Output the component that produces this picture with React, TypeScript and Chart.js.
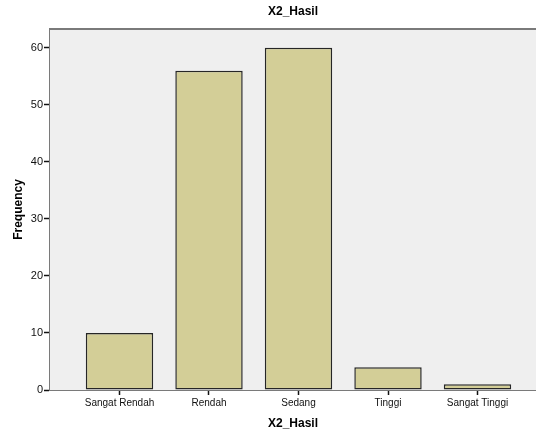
import React, { useEffect, useRef } from "react";
import { Chart, registerables } from "chart.js";

Chart.register(...registerables);

const chartTitle = "X2_Hasil";
const xAxisTitle = "X2_Hasil";
const yAxisTitle = "Frequency";
const categories = ["Sangat Rendah", "Rendah", "Sedang", "Tinggi", "Sangat Tinggi"];
const frequencies = [10, 56, 60, 4, 1];

const FONT = "'Liberation Sans', Arial, sans-serif";

const plotDecor = {
  id: "plotDecor",
  beforeDatasetsDraw(chart: any) {
    const { ctx, chartArea } = chart;
    ctx.save();
    ctx.fillStyle = "#efefef";
    ctx.fillRect(chartArea.left, chartArea.top, chartArea.right - chartArea.left, chartArea.bottom - chartArea.top);
    ctx.restore();
  },
  afterDraw(chart: any) {
    const { ctx, chartArea } = chart;
    ctx.save();
    ctx.strokeStyle = "#7a7a7a";
    ctx.lineWidth = 2;
    ctx.beginPath();
    ctx.moveTo(chartArea.left, chartArea.top);
    ctx.lineTo(chartArea.right, chartArea.top);
    ctx.stroke();
    ctx.fillStyle = "#000";
    ctx.font = `bold 12px ${FONT}`;
    ctx.textAlign = "center";
    ctx.textBaseline = "middle";
    ctx.fillText(chartTitle, (chartArea.left + chartArea.right) / 2, 12);
    ctx.restore();
  },
};

export default function App() {
  const ref = useRef<HTMLCanvasElement>(null);
  useEffect(() => {
    document.body.style.margin = "0";
    const chart = new Chart(ref.current!, {
      type: "bar",
      data: {
        datasets: [
          {
            data: frequencies.map((v, i) => ({ x: i, y: v })),
            backgroundColor: "#d3ce97",
            borderColor: "#262626",
            borderWidth: 1.5,
            borderSkipped: false,
            barPercentage: 0.753,
            categoryPercentage: 1,
          },
        ],
      },
      options: {
        animation: false,
        responsive: false,
        devicePixelRatio: 1,
        layout: { padding: { top: 29, left: 0, right: 0, bottom: 0 } },
        plugins: { legend: { display: false }, tooltip: { enabled: false }, title: { display: false } },
        scales: {
          x: {
            type: "linear",
            min: -0.7765,
            max: 4.6536,
            offset: false,
            afterBuildTicks: (axis: any) => {
              axis.ticks = categories.map((_, i) => ({ value: i }));
            },
            afterFit: (scale: any) => {
              scale.height = 45;
            },
            grid: { display: true, drawOnChartArea: false, tickLength: 5, tickColor: "#111", tickWidth: 1.5, offset: false },
            border: { display: true, color: "#7a7a7a", width: 2 },
            ticks: {
              autoSkip: false,
              maxRotation: 0,
              padding: 2,
              color: "#111",
              font: { family: FONT, size: 10 },
              callback: (value: any) => categories[value as number] ?? "",
            },
            title: {
              display: true,
              text: xAxisTitle,
              color: "#000",
              font: { family: FONT, size: 12, weight: "bold" },
              padding: { top: 4, bottom: 4 },
            },
          },
          y: {
            min: 0,
            max: 63.3,
            afterFit: (scale: any) => {
              scale.width = 50;
            },
            grid: { display: true, drawOnChartArea: false, tickLength: 6, tickColor: "#111", tickWidth: 1.5 },
            border: { display: true, color: "#7a7a7a", width: 2 },
            ticks: {
              stepSize: 10,
              includeBounds: false,
              padding: 1,
              color: "#111",
              font: { family: FONT, size: 11 },
            },
            title: {
              display: true,
              text: yAxisTitle,
              color: "#000",
              font: { family: FONT, size: 12, weight: "bold" },
              padding: { top: 11, bottom: 4 },
            },
          },
        },
      },
      plugins: [plotDecor],
    } as any);
    return () => chart.destroy();
  }, []);
  return (
    <div style={{ position: "absolute", left: 0, top: 0, width: 536, height: 435, background: "#fff" }}>
      <canvas ref={ref} width={536} height={435} style={{ width: 536, height: 435 }} />
    </div>
  );
}
